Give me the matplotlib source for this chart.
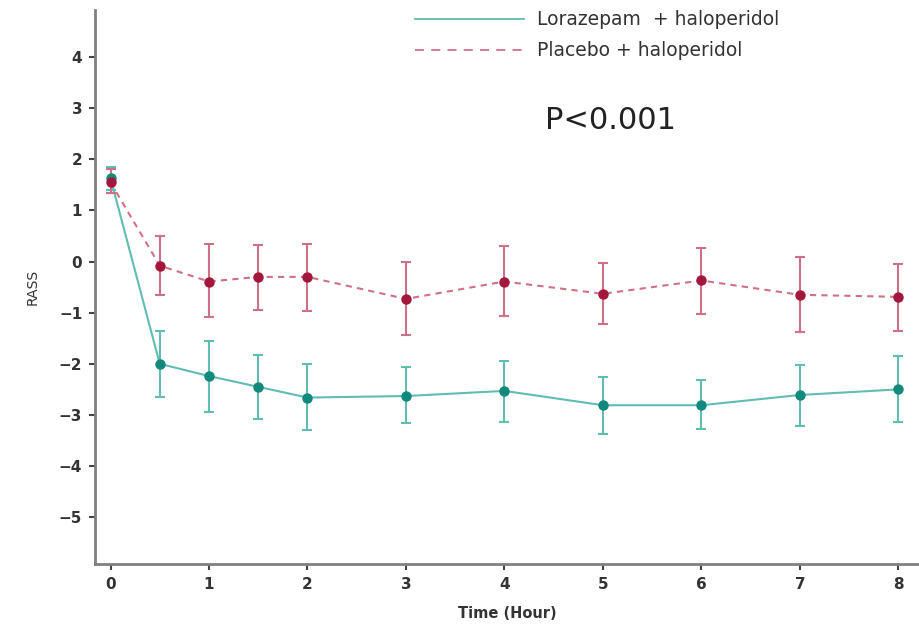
import matplotlib
matplotlib.use("Agg")
import matplotlib.pyplot as plt
from matplotlib.lines import Line2D

# time points (hours)
time = [0, 0.5, 1, 1.5, 2, 3, 4, 5, 6, 7, 8]

# Lorazepam + haloperidol: mean, lower and upper bound of error bars
lora_mean = [1.63, -2.0, -2.24, -2.45, -2.66, -2.63, -2.53, -2.81, -2.81, -2.61, -2.50]
lora_low = [1.40, -2.65, -2.94, -3.07, -3.29, -3.16, -3.13, -3.37, -3.28, -3.22, -3.14]
lora_high = [1.85, -1.35, -1.55, -1.82, -2.00, -2.07, -1.94, -2.26, -2.32, -2.02, -1.84]

# Placebo + haloperidol
plac_mean = [1.55, -0.08, -0.39, -0.30, -0.30, -0.73, -0.39, -0.63, -0.37, -0.65, -0.69]
plac_low = [1.35, -0.65, -1.08, -0.94, -0.96, -1.43, -1.06, -1.22, -1.02, -1.37, -1.35]
plac_high = [1.82, 0.51, 0.35, 0.33, 0.35, 0.00, 0.30, -0.02, 0.27, 0.08, -0.04]

xticks = [0, 1, 2, 3, 4, 5, 6, 7, 8]
yticks = [-5, -4, -3, -2, -1, 0, 1, 2, 3, 4]

teal_dot = '#11897c'
teal_line = '#5fbdb2'
red_dot = '#a3173a'
red_line = '#cf7186'

fig = plt.figure(figsize=(9.2, 6.29), dpi=100)
ax = fig.add_axes([0.103, 0.103, 0.897, 0.881])

def err(mean, low, high):
    return [[m - l for m, l in zip(mean, low)], [h - m for m, h in zip(mean, high)]]

# lorazepam first, placebo drawn on top (visible at t=0 overlap)
ax.errorbar(time, lora_mean, yerr=err(lora_mean, lora_low, lora_high), fmt='none',
            ecolor=teal_line, elinewidth=1.5, capsize=3.5, capthick=1.5, zorder=2)
ax.plot(time, lora_mean, color=teal_line, linewidth=1.5, zorder=2)
ax.plot(time, lora_mean, 'o', color=teal_dot, markersize=6.5, zorder=3)

ax.errorbar(time, plac_mean, yerr=err(plac_mean, plac_low, plac_high), fmt='none',
            ecolor=red_line, elinewidth=1.5, capsize=3.5, capthick=1.5, zorder=2)
ax.plot(time, plac_mean, color=red_line, linestyle=(0, (3, 2.5)), linewidth=1.5, zorder=2)
ax.plot(time, plac_mean, 'o', color=red_dot, markersize=6.5, zorder=3)

ax.set_xlim(-0.16, 8.22)
ax.set_ylim(-5.92, 4.92)
ax.set_xticks(xticks)
ax.set_yticks(yticks)
ax.set_yticklabels([str(v).replace('-', '\u2212') for v in yticks])

for side in ['top', 'right']:
    ax.spines[side].set_visible(False)
for side in ['left', 'bottom']:
    ax.spines[side].set_color('#808080')
    ax.spines[side].set_linewidth(2)
ax.tick_params(axis='both', length=4, width=1.5, color='#444444', labelsize=11,
               labelcolor='#333333', pad=5)
for lbl in ax.get_xticklabels() + ax.get_yticklabels():
    lbl.set_fontweight('bold')

ax.set_xlabel('Time (Hour)', fontsize=10.5, fontweight='bold', color='#333333', labelpad=10)
ax.set_ylabel('RASS', fontsize=10, color='#333333', labelpad=14)

handles = [Line2D([0], [0], color=teal_line, linewidth=1.3),
           Line2D([0], [0], color=red_line, linewidth=1.3, linestyle=(0, (5, 4)))]
ax.legend(handles, ['Lorazepam  + haloperidol', 'Placebo + haloperidol'],
          loc='upper left', bbox_to_anchor=(0.388, 1.0), frameon=False,
          borderpad=0, borderaxespad=0,
          fontsize=13.5, handlelength=5.8, handletextpad=0.7, labelspacing=0.65,
          labelcolor='#333333')

ax.text(4.41, 2.76, 'P<0.001', fontsize=22, color='#222222', va='center')

fig.savefig('out.png', dpi=100)
